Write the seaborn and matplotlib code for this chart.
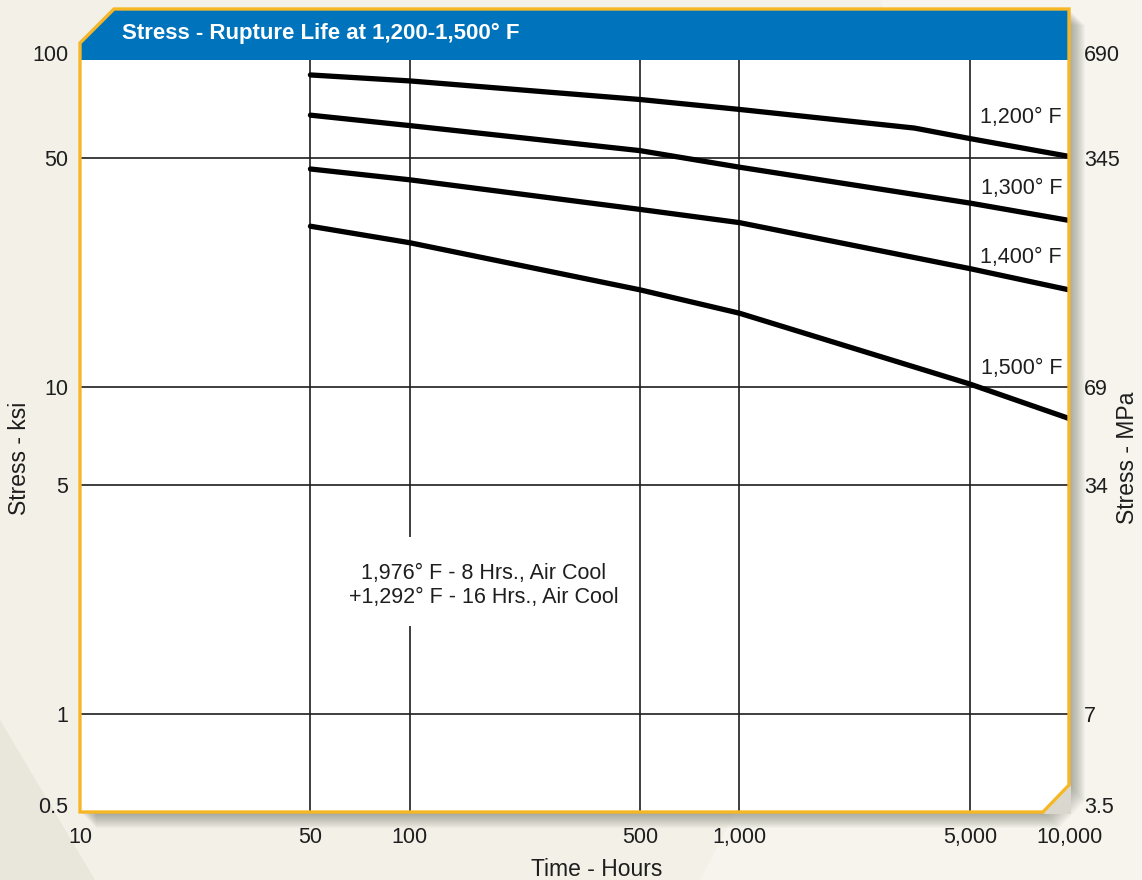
import matplotlib
matplotlib.use("Agg")
import matplotlib.pyplot as plt
import matplotlib.transforms as mtransforms
import pandas as pd
import seaborn as sns
from matplotlib.patches import Polygon

# ---- data -------------------------------------------------------------
hours_1200 = [50, 100, 500, 1000, 3400, 5000, 10000]
ksi_1200 = [90.0, 86.3, 75.7, 70.6, 61.9, 57.5, 50.7]

hours_std = [50, 100, 500, 1000, 5000, 10000]
ksi_1300 = [67.8, 63.0, 52.8, 47.0, 36.5, 32.3]
ksi_1400 = [46.4, 43.0, 34.9, 31.8, 23.0, 19.8]
ksi_1500 = [31.0, 27.6, 19.8, 16.8, 10.2, 8.0]

temps = ["1,200° F", "1,300° F", "1,400° F", "1,500° F"]

x_ticks = [10, 50, 100, 500, 1000, 5000, 10000]
x_labels = ["10", "50", "100", "500", "1,000", "5,000", "10,000"]
y_ticks = [0.5, 1, 5, 10, 50, 100]
ksi_labels = ["0.5", "1", "5", "10", "50", "100"]
mpa_labels = ["3.5", "7", "34", "69", "345", "690"]

title = "Stress - Rupture Life at 1,200-1,500° F"
note = "1,976° F - 8 Hrs., Air Cool\n+1,292° F - 16 Hrs., Air Cool"

frames = []
for t, hrs, ksi in zip(temps,
                       [hours_1200, hours_std, hours_std, hours_std],
                       [ksi_1200, ksi_1300, ksi_1400, ksi_1500]):
    frames.append(pd.DataFrame({"hours": hrs, "ksi": ksi, "temp": t}))
df = pd.concat(frames, ignore_index=True)

# ---- style ------------------------------------------------------------
sns.set_style("white")
plt.rcParams["font.family"] = ["Liberation Sans", "DejaVu Sans"]

W, H = 1142, 880
BG = "#F2F0E7"
BLUE = "#0073BD"
GOLD = "#F6B727"
INK = "#1E1E1E"
FS = 15.5


def fx(px):
    return px / W


def fy(py):
    return 1 - py / H


def fpoly(pts, **kw):
    return Polygon([(fx(x), fy(y)) for x, y in pts], closed=True,
                   transform=fig.transFigure, **kw)


fig = plt.figure(figsize=(W / 100, H / 100), dpi=100, facecolor=BG)

# faint panels in the backdrop
fig.add_artist(fpoly([(880, 0), (1142, 0), (1142, 880), (700, 880), (1000, 300)],
                     facecolor="#F6F4EC", edgecolor="none", zorder=-5))
fig.add_artist(fpoly([(0, 720), (0, 880), (95, 880)],
                     facecolor="#E9E7DC", edgecolor="none", zorder=-5))

L, R, T, B = 80, 1069, 60, 812
ax = fig.add_axes([fx(L), fy(B), fx(R - L), (B - T) / H])
ax.set_facecolor("white")

# soft drop shadow behind the frame
frame = [(L, 43), (114, 9), (R, 9), (R, 785), (1043, B), (L, B)]
for d in range(1, 17):
    fig.add_artist(fpoly([(x + d, y + d) for x, y in frame],
                         facecolor="#55554a", edgecolor="none",
                         alpha=0.035, zorder=-2))

# grid
grid_kw = dict(color=INK, lw=1.2, zorder=1)
for xv in [50, 500, 1000, 5000]:
    ax.axvline(xv, **grid_kw)
ax.vlines([100, 100], [0.5, 3.46], [1.85, 100], **grid_kw)
for yv in [1, 5, 10, 50]:
    ax.axhline(yv, **grid_kw)

sns.lineplot(data=df, x="hours", y="ksi", hue="temp", palette=["black"] * 4,
             estimator=None, sort=True, lw=3.8, legend=False, ax=ax, zorder=3)

ax.set_xscale("log")
ax.set_yscale("log")
ax.set_xlim(10, 10000)
ax.set_ylim(0.5, 100)
ax.minorticks_off()
ax.set_xticks(x_ticks)
ax.set_xticklabels(x_labels)
ax.set_yticks(y_ticks)
ax.set_yticklabels(ksi_labels)
ax.tick_params(length=0, labelsize=FS, labelcolor=INK)
ax.tick_params(axis="x", pad=11)
ax.tick_params(axis="y", pad=8.5)
ax.set_xlabel("")
ax.set_ylabel("")
for s in ax.spines.values():
    s.set_visible(False)

ax2 = ax.twinx()
ax2.set_yscale("log")
ax2.set_ylim(0.5, 100)
ax2.minorticks_off()
ax2.set_yticks(y_ticks)
ax2.set_yticklabels(mpa_labels)
ax2.tick_params(length=0, labelsize=FS, labelcolor=INK, pad=11)
for s in ax2.spines.values():
    s.set_visible(False)

# nudge the end labels of both stress scales upward a little
up = mtransforms.ScaledTranslation(0, 5 / 72, fig.dpi_scale_trans)
for axis in (ax, ax2):
    for i, tick in enumerate(axis.yaxis.get_major_ticks()):
        if i in (0, len(y_ticks) - 1):
            for lab in (tick.label1, tick.label2):
                lab.set_transform(lab.get_transform() + up)

# curve labels along the right edge
label_y = [66.5, 40.3, 24.8, 11.4]
for t, yv in zip(temps, label_y):
    ax.text(0.993, yv, t, transform=ax.get_yaxis_transform(), ha="right",
            va="center", fontsize=FS, color=INK, zorder=4)

ax.text(168, 2.47, note, ha="center", va="center", fontsize=FS, color=INK,
        linespacing=1.2, zorder=4)

# title band, cut corner and gold frame
fig.add_artist(fpoly([(L, 43), (114, 9), (R, 9), (R, T), (L, T)],
                     facecolor=BLUE, edgecolor="none", zorder=5))
fig.add_artist(fpoly([(R + 2, 785), (R + 2, B + 2), (1043, B + 2)],
                     facecolor="#DAD8CE", edgecolor="none", zorder=5))
fig.add_artist(fpoly(frame, facecolor="none", edgecolor=GOLD, lw=2.4, zorder=6))
fig.text(fx(122), fy(33), title, color="white", fontsize=16, fontweight="bold",
         ha="left", va="center", zorder=7)

fig.text(fx(597), fy(869), "Time - Hours", fontsize=16.5, color=INK,
         ha="center", va="center")
fig.text(fx(20), fy(458), "Stress - ksi", fontsize=16.5, color=INK,
         rotation=90, ha="center", va="center")
fig.text(fx(1127), fy(458), "Stress - MPa", fontsize=16.5, color=INK,
         rotation=90, ha="center", va="center")

fig.savefig("out.png", dpi=100, facecolor=BG)
